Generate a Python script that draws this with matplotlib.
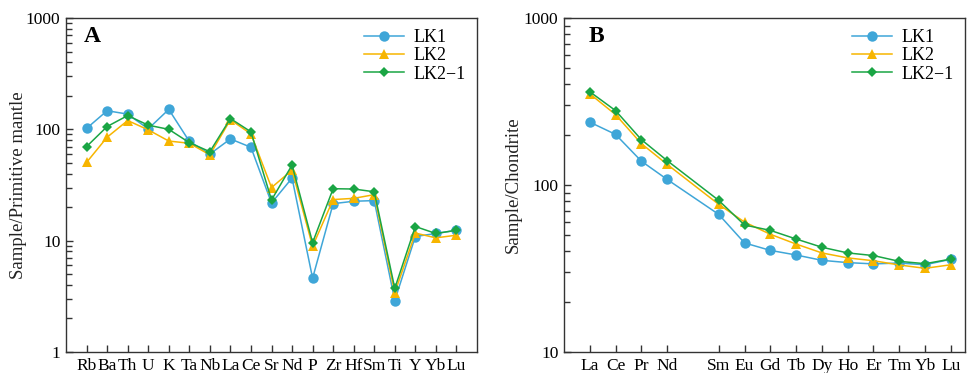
import matplotlib
matplotlib.use("Agg")
import matplotlib.pyplot as plt
from matplotlib.ticker import LogLocator, FixedLocator, NullFormatter

plt.rcParams['font.family'] = ['Liberation Serif', 'DejaVu Serif']

# Trace elements (primitive-mantle normalised)
trace_elements = ["Rb", "Ba", "Th", "U", "K", "Ta", "Nb", "La", "Ce", "Sr",
                  "Nd", "P", "Zr", "Hf", "Sm", "Ti", "Y", "Yb", "Lu"]
trace_lk1 = [102, 147, 137, 101, 151, 78, 60, 82, 69, 21.8,
             36.5, 4.6, 21.5, 22.6, 22.9, 2.9, 10.9, 11.6, 12.4]
trace_lk2 = [50.5, 85, 120, 99, 78.5, 75, 59, 122, 91, 30,
             43, 8.9, 23.4, 24, 25.9, 3.4, 11.7, 10.6, 11.2]
trace_lk21 = [70, 106, 133, 109, 100, 76, 63, 125, 95, 23.2,
              47.8, 9.6, 29.3, 29.1, 27.5, 3.73, 13.4, 11.6, 12.4]

# Rare earth elements (chondrite normalised); Pm slot left empty
ree_elements = ["La", "Ce", "Pr", "Nd", "Sm", "Eu", "Gd", "Tb", "Dy",
                "Ho", "Er", "Tm", "Yb", "Lu"]
ree_slots = [0, 1, 2, 3, 5, 6, 7, 8, 9, 10, 11, 12, 13, 14]
ree_lk1 = [238, 201, 139, 108, 66.7, 45, 40.6, 38.1, 35.4,
           34.3, 33.7, 34.1, 33.3, 35.9]
ree_lk2 = [352, 264, 177, 133, 76.6, 60, 50.7, 44.3, 39.2,
           36.6, 35.2, 33.2, 31.7, 33.3]
ree_lk21 = [362, 279, 187, 140, 80.9, 57.6, 53.5, 47.5, 42.4,
            39.2, 37.8, 34.9, 33.8, 36]

series_names = ["LK1", "LK2", "LK2\u22121"]
colors = ["#3FA6D8", "#F7B500", "#1AA544"]
markers = ["o", "^", "D"]
msizes = [7.5, 7.5, 5.5]

fig = plt.figure(figsize=(9.74, 3.73), dpi=100)
axA = fig.add_axes([0.0678, 0.0563, 0.4219, 0.8954])
axB = fig.add_axes([0.5790, 0.0563, 0.4118, 0.8954])

frame_color = "#333333"


def style_axis(ax, ylabel, letter, letter_x, label_x):
    ax.set_yscale("log")
    for s in ax.spines.values():
        s.set_color(frame_color)
        s.set_linewidth(1.0)
    ax.yaxis.set_major_locator(LogLocator(base=10))
    ax.yaxis.set_minor_locator(LogLocator(base=10, subs=range(2, 10)))
    ax.yaxis.set_minor_formatter(NullFormatter())
    ax.tick_params(axis="both", which="major", direction="in", length=5,
                   width=1.0, color=frame_color, labelsize=12.5,
                   top=False, right=False, pad=4)
    ax.tick_params(axis="y", which="minor", direction="in", length=4,
                   width=1.0, color=frame_color, right=False)
    ax.tick_params(axis="x", which="minor", bottom=False)
    ax.set_ylabel(ylabel, fontsize=13.5, color="#222222")
    ax.yaxis.set_label_coords(label_x, 0.5)
    ax.text(letter_x, 0.975, letter, transform=ax.transAxes, fontsize=17,
            fontweight="bold", va="top", ha="left")


def plot_series(ax, x, ys):
    handles = []
    for y, name, c, m, ms in zip(ys, series_names, colors, markers, msizes):
        h, = ax.plot(x, y, color=c, marker=m, markersize=ms, linewidth=1.1,
                     markeredgewidth=0, label=name)
        handles.append(h)
    ax.legend(handles=handles, loc="upper right", frameon=False,
              fontsize=13, handlelength=2.2, handletextpad=0.55,
              labelspacing=0.08, borderaxespad=0.2)


# Panel A: spider diagram
xa = list(range(len(trace_elements)))
plot_series(axA, xa, [trace_lk1, trace_lk2, trace_lk21])
axA.set_xlim(-1, 19)
axA.set_ylim(1, 1000)
axA.xaxis.set_major_locator(FixedLocator(xa))
axA.set_xticklabels(trace_elements)
style_axis(axA, "Sample/Primitive mantle", "A", 0.042, -0.095)
axA.set_yticks([1, 10, 100, 1000])
axA.set_yticklabels(["1", "10", "100", "1000"])

# Panel B: REE pattern
plot_series(axB, ree_slots, [ree_lk1, ree_lk2, ree_lk21])
axB.set_xlim(-1, 14.55)
axB.set_ylim(10, 1000)
axB.xaxis.set_major_locator(FixedLocator(ree_slots))
axB.set_xticklabels(ree_elements)
style_axis(axB, "Sample/Chondrite", "B", 0.062, -0.105)
axB.set_yticks([10, 100, 1000])
axB.set_yticklabels(["10", "100", "1000"])

fig.savefig("out.png", dpi=100)
